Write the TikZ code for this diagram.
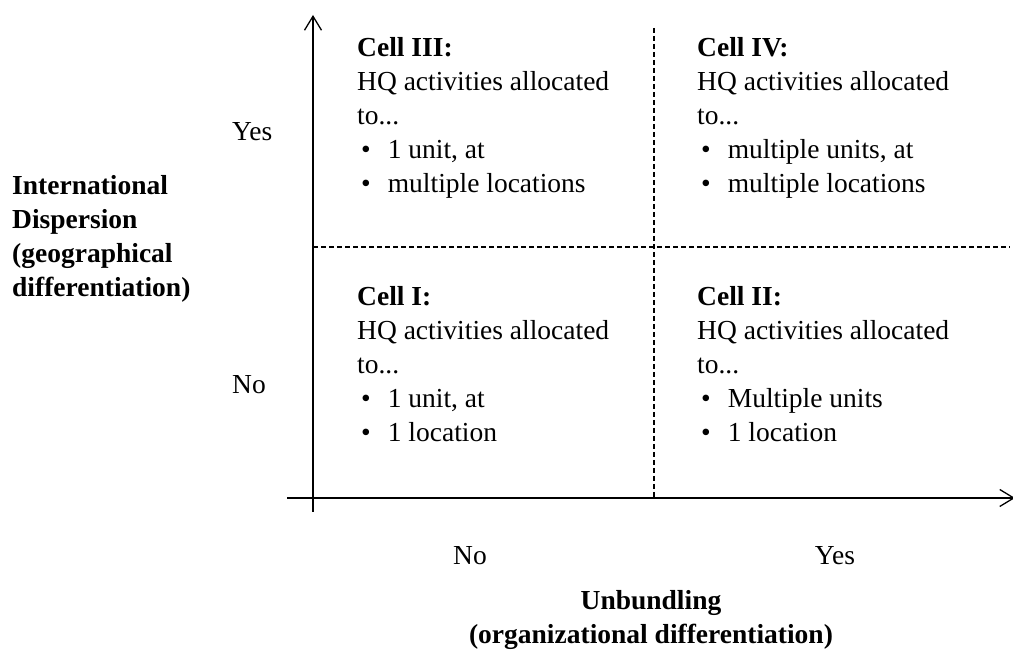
\documentclass[tikz,border=0pt]{standalone}
\usepackage{fontspec}
\setmainfont{Liberation Serif}
\usepackage{tikz}
\usetikzlibrary{arrows.meta,positioning}
\tikzstyle{axis} = [line width=1.3pt, -{Straight Barb[length=14pt,width=17pt,line width=1.3pt]}]
\tikzstyle{divider} = [line width=1.3pt, dash pattern=on 5pt off 3pt]
\tikzstyle{cell} = [anchor=north west, inner sep=0pt, align=left, font=\fontsize{27.5}{34}\selectfont]
\tikzstyle{tick} = [inner sep=0pt, font=\fontsize{27.5}{34}\selectfont]
\newcommand{\bul}{\hspace{4pt}\textbullet\hspace{17pt}}

\begin{document}
\begin{tikzpicture}[x=1pt,y=1pt]
\useasboundingbox (0,0) rectangle (1013,655);
% axes
\coordinate (vlow) at (313,143);
\coordinate (vtop) at (313,640);
\coordinate (hleft) at (287,157);
\coordinate (hright) at (1015,157);
\draw[axis] (vlow) -- (vtop);
\draw[axis] (hleft) -- (hright);
% quadrant lines
\coordinate (dtop) at (654,627);
\coordinate (dlow) at (654,157);
\coordinate (dleft) at (313,408);
\coordinate (dright) at (1010,408);
\draw[divider] (dtop) -- (dlow);
\draw[divider] (dleft) -- (dright);
% cells
\node[cell] (c3) at (357,618) {\textbf{Cell III:}\\HQ activities allocated\\to...\\\bul 1 unit, at\\\bul multiple locations};
\node[cell] (c4) at (697,618) {\textbf{Cell IV:}\\HQ activities allocated\\to...\\\bul multiple units, at\\\bul multiple locations};
\node[cell] (c1) at (357,369) {\textbf{Cell I:}\\HQ activities allocated\\to...\\\bul 1 unit, at\\\bul 1 location};
\node[cell] (c2) at (697,369) {\textbf{Cell II:}\\HQ activities allocated\\to...\\\bul Multiple units\\\bul 1 location};
% axis labels
\node[tick, anchor=west] (yyes) at (232,523) {Yes};
\node[tick, anchor=west] (yno) at (232,270) {No};
\node[tick, anchor=west, align=left, font=\fontsize{27.5}{34}\selectfont\bfseries] (ylab) at (12,416) {International\\Dispersion\\(geographical\\differentiation)};
\node[tick] (xno) at (470,99) {No};
\node[tick] (xyes) at (835,99) {Yes};
\node[tick, align=center, font=\fontsize{27.5}{34}\selectfont\bfseries] (xlab) at (651,35) {Unbundling\\(organizational differentiation)};
\end{tikzpicture}
\end{document}
